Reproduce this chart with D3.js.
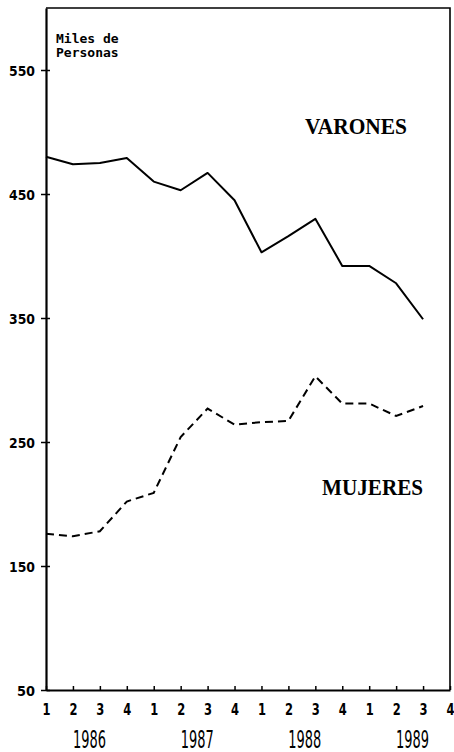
<!DOCTYPE html>
<html>
<head>
<meta charset="utf-8">
<script src="https://cdn.jsdelivr.net/npm/d3@7"></script>
<style>
  body { margin: 0; background: #fff; }
  svg { display: block; }
</style>
</head>
<body>
<svg id="chart"></svg>
<script>
// Quarters 1986 Q1 .. 1989 Q4 (tick labels), years below
var quarterLabels = ["1","2","3","4","1","2","3","4","1","2","3","4","1","2","3","4"];
var years = ["1986", "1987", "1988", "1989"];
var yTicks = [50, 150, 250, 350, 450, 550];

// Miles de personas, 1986 Q1 .. 1989 Q3
var varones = [480, 474, 475, 479, 460, 453, 467, 445, 403, 416, 430, 392, 392, 378, 349];
var mujeres = [176, 174, 178, 202, 209, 254, 277, 264, 266, 267, 303, 281, 281, 271, 279];

var width = 454, height = 752;
var margin = { top: 8, right: 4, bottom: 62, left: 46 };

var svg = d3.select("#chart")
    .attr("width", width)
    .attr("height", height);

var x = d3.scaleLinear().domain([0, quarterLabels.length - 1])
    .range([margin.left, width - margin.right]);
var y = d3.scaleLinear().domain([50, 600])
    .range([height - margin.bottom, margin.top]);

// frame: top and right
svg.append("path")
    .attr("d", "M" + x(0) + "," + y(600) + "H" + x(15) + "V" + y(50))
    .attr("fill", "none")
    .attr("stroke", "#000")
    .attr("stroke-width", 1.6);

// Y axis with cross ticks
var yAxis = d3.axisLeft(y).tickValues(yTicks).tickSize(0).tickPadding(11);
var gy = svg.append("g")
    .attr("transform", "translate(" + x(0) + ",0)")
    .call(yAxis);
gy.select(".domain").attr("stroke-width", 2.2);
gy.selectAll(".tick line")
    .attr("x1", -5).attr("x2", 4)
    .attr("stroke-width", 1.5);
gy.selectAll(".tick text")
    .attr("font-family", "'DejaVu Sans', sans-serif")
    .attr("font-weight", "bold")
    .attr("font-size", 14)
    .attr("dy", "0.36em")
    .attr("textLength", function(d) { return d < 100 ? 18 : 26; })
    .attr("lengthAdjust", "spacingAndGlyphs");

// X axis with small upward ticks
var xAxis = d3.axisBottom(x)
    .tickValues(d3.range(quarterLabels.length))
    .tickFormat(function(d) { return quarterLabels[d]; })
    .tickSize(0).tickPadding(14);
var gx = svg.append("g")
    .attr("transform", "translate(0," + y(50) + ")")
    .call(xAxis);
gx.select(".domain").attr("stroke-width", 2);
gx.selectAll(".tick line")
    .attr("y1", 0).attr("y2", -4)
    .attr("stroke-width", 1.5);
gx.selectAll(".tick text")
    .attr("font-family", "'DejaVu Sans', sans-serif")
    .attr("font-weight", "bold")
    .attr("font-size", 15)
    .attr("dy", "0.75em")
    .attr("textLength", 8)
    .attr("lengthAdjust", "spacingAndGlyphs");

// year labels centred between Q2 and Q3
svg.append("g").selectAll("text")
    .data(years)
    .join("text")
    .attr("x", function(d, i) { return (x(i * 4 + 1) + x(i * 4 + 2)) / 2 + 3; })
    .attr("y", height - 4)
    .attr("text-anchor", "middle")
    .attr("font-family", "'DejaVu Sans', sans-serif")
    .attr("font-size", 24)
    .attr("textLength", 33)
    .attr("lengthAdjust", "spacingAndGlyphs")
    .text(function(d) { return d; });

// lines
var line = d3.line()
    .x(function(d, i) { return x(i); })
    .y(function(d) { return y(d); });

svg.append("path")
    .datum(varones)
    .attr("d", line)
    .attr("fill", "none")
    .attr("stroke", "#000")
    .attr("stroke-width", 2)
    .attr("stroke-linejoin", "round");

svg.append("path")
    .datum(mujeres)
    .attr("d", line)
    .attr("fill", "none")
    .attr("stroke", "#000")
    .attr("stroke-width", 2)
    .attr("stroke-dasharray", "8,5");

// unit label
var unit = svg.append("text")
    .attr("font-family", "'DejaVu Sans Mono', monospace")
    .attr("font-weight", "bold")
    .attr("font-size", 13);
unit.append("tspan").attr("x", 56).attr("y", 43).text("Miles de");
unit.append("tspan").attr("x", 56).attr("y", 57).text("Personas");

// series labels
svg.append("text")
    .attr("x", 305).attr("y", 134)
    .attr("font-family", "'Liberation Serif', 'Times New Roman', serif")
    .attr("font-weight", "bold")
    .attr("font-size", 24)
    .attr("textLength", 102)
    .attr("lengthAdjust", "spacingAndGlyphs")
    .text("VARONES");

svg.append("text")
    .attr("x", 322).attr("y", 495)
    .attr("font-family", "'Liberation Serif', 'Times New Roman', serif")
    .attr("font-weight", "bold")
    .attr("font-size", 24)
    .attr("textLength", 101)
    .attr("lengthAdjust", "spacingAndGlyphs")
    .text("MUJERES");
</script>
</body>
</html>
